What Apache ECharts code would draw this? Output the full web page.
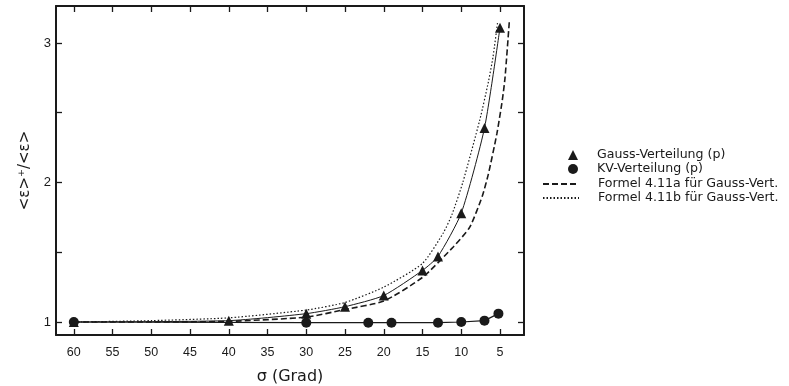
<!DOCTYPE html>
<html><head><meta charset="utf-8">
<script src="https://cdn.jsdelivr.net/npm/echarts@6/dist/echarts.min.js"></script>
<style>html,body{margin:0;padding:0;background:#fff}#c{width:789px;height:386px}</style>
</head><body><div id="c"></div>
<script>
// Tick values / labels
const xTicks = [5, 10, 15, 20, 25, 30, 35, 40, 45, 50, 55, 60];
const yTicks = [1, 1.5, 2, 2.5, 3];
const yLabels = [1, 2, 3];

// Series names
const nameGauss = 'Gauss-Verteilung (p)';
const nameKV = 'KV-Verteilung (p)';
const nameA = 'Formel 4.11a für Gauss-Vert.';
const nameB = 'Formel 4.11b für Gauss-Vert.';

// Gauss-Verteilung (triangles)
const sigmaGauss = [60, 40, 30, 25, 20, 15, 13, 10, 7, 5];
const valGauss   = [1.0, 1.01, 1.06, 1.11, 1.19, 1.37, 1.47, 1.78, 2.39, 3.11];

// KV-Verteilung (circles)
const sigmaKV = [60, 30, 22, 19, 13, 10, 7, 5.2];
const valKV   = [1.0, 0.995, 0.995, 0.995, 0.995, 1.0, 1.01, 1.06];

// Formel 4.11a (dashed)
const sigmaA = [60, 50, 40, 30, 25, 20, 15, 11, 8.9, 7.3, 6.5, 5.4, 4.7, 4.35, 3.8];
const valA   = [1.0, 1.0, 1.005, 1.035, 1.09, 1.15, 1.32, 1.54, 1.68, 1.9, 2.06, 2.35, 2.59, 2.75, 3.15];

// Formel 4.11b (dotted)
const sigmaB = [60, 50, 40, 30, 25, 20, 15, 12.3, 11.2, 9.8, 7.6, 6.5, 5.9, 5.3];
const valB   = [1.0, 1.01, 1.03, 1.086, 1.14, 1.25, 1.42, 1.64, 1.77, 2.0, 2.45, 2.72, 2.9, 3.15];

const zip = (a, b) => a.map((v, i) => [v, b[i]]);
const ink = '#1a1a1a';
const font = 'Liberation Sans';
const font2 = 'DejaVu Sans';

const xBase = {
  type: 'value', inverse: true, min: 1.9, max: 62.3,
  splitLine: { show: false },
  axisLine: { lineStyle: { color: ink, width: 2 } },
  axisTick: { inside: true, length: 6, customValues: xTicks, lineStyle: { color: ink, width: 1.3 } }
};
const yBase = {
  type: 'value', min: 0.907, max: 3.265,
  splitLine: { show: false },
  axisLine: { lineStyle: { color: ink, width: 2 } },
  axisTick: { inside: true, length: 6, customValues: yTicks, lineStyle: { color: ink, width: 1.3 } }
};
const hidden = { color: 'rgba(0,0,0,0)', borderColor: 'rgba(0,0,0,0)', borderWidth: 0 };

const chart = echarts.init(document.getElementById('c'), null, { renderer: 'canvas' });
chart.setOption({
  animation: false,
  backgroundColor: '#fff',
  textStyle: { fontFamily: font, color: ink },
  grid: { left: 56, right: 265, top: 6, bottom: 51, containLabel: false, outerBoundsMode: 'none' },
  xAxis: [
    Object.assign({}, xBase, {
      position: 'bottom',
      axisLabel: { customValues: xTicks, margin: 11, fontSize: 12.5, color: ink, fontFamily: font },
      name: 'σ (Grad)', nameLocation: 'middle', nameGap: 34,
      nameTextStyle: { fontSize: 16, color: ink, fontFamily: font2 }
    }),
    Object.assign({}, xBase, { position: 'top', axisLabel: { show: false } })
  ],
  yAxis: [
    Object.assign({}, yBase, {
      position: 'left',
      axisLabel: { customValues: yLabels, margin: 5, fontSize: 13, color: ink, fontFamily: font },
      name: '<ε>⁺/<ε>', nameLocation: 'middle', nameGap: 14, nameRotate: 90,
      nameTextStyle: { fontSize: 15, color: ink, fontFamily: font2 }
    }),
    Object.assign({}, yBase, { position: 'right', axisLabel: { show: false } })
  ],
  legend: [
    {
      orient: 'vertical', left: 563, top: 143, itemWidth: 10, itemHeight: 10, itemGap: 0,
      data: [{ name: nameGauss, icon: 'triangle' }, { name: nameKV, icon: 'circle' }],
      textStyle: { fontSize: 12.6, lineHeight: 14, color: ink, fontFamily: font2, padding: [0, 0, 0, 14] },
      selectedMode: false
    },
    {
      orient: 'vertical', left: 537, top: 172, itemWidth: 36, itemHeight: 10, itemGap: 0,
      data: [{ name: nameA, itemStyle: hidden }, { name: nameB, itemStyle: hidden }],
      textStyle: { fontSize: 12.6, lineHeight: 14, color: ink, fontFamily: font2, padding: [0, 0, 0, 14] },
      selectedMode: false
    }
  ],
  series: [
    {
      name: nameA, type: 'line', data: zip(sigmaA, valA), symbol: 'none',
      smooth: 0.2,
      lineStyle: { color: ink, width: 1.6, type: [6, 3] }, itemStyle: { color: ink }
    },
    {
      name: nameB, type: 'line', data: zip(sigmaB, valB), symbol: 'none',
      smooth: 0.2,
      lineStyle: { color: ink, width: 1.2, type: [1.5, 2] }, itemStyle: { color: ink }
    },
    {
      name: nameGauss, type: 'line', data: zip(sigmaGauss, valGauss), symbol: 'triangle', symbolSize: 10,
      smooth: 0.2,
      lineStyle: { color: ink, width: 1 }, itemStyle: { color: ink }
    },
    {
      name: nameKV, type: 'line', data: zip(sigmaKV, valKV), symbol: 'circle', symbolSize: 10,
      lineStyle: { color: ink, width: 1.2 }, itemStyle: { color: ink }
    }
  ]
});
</script>
</body></html>
